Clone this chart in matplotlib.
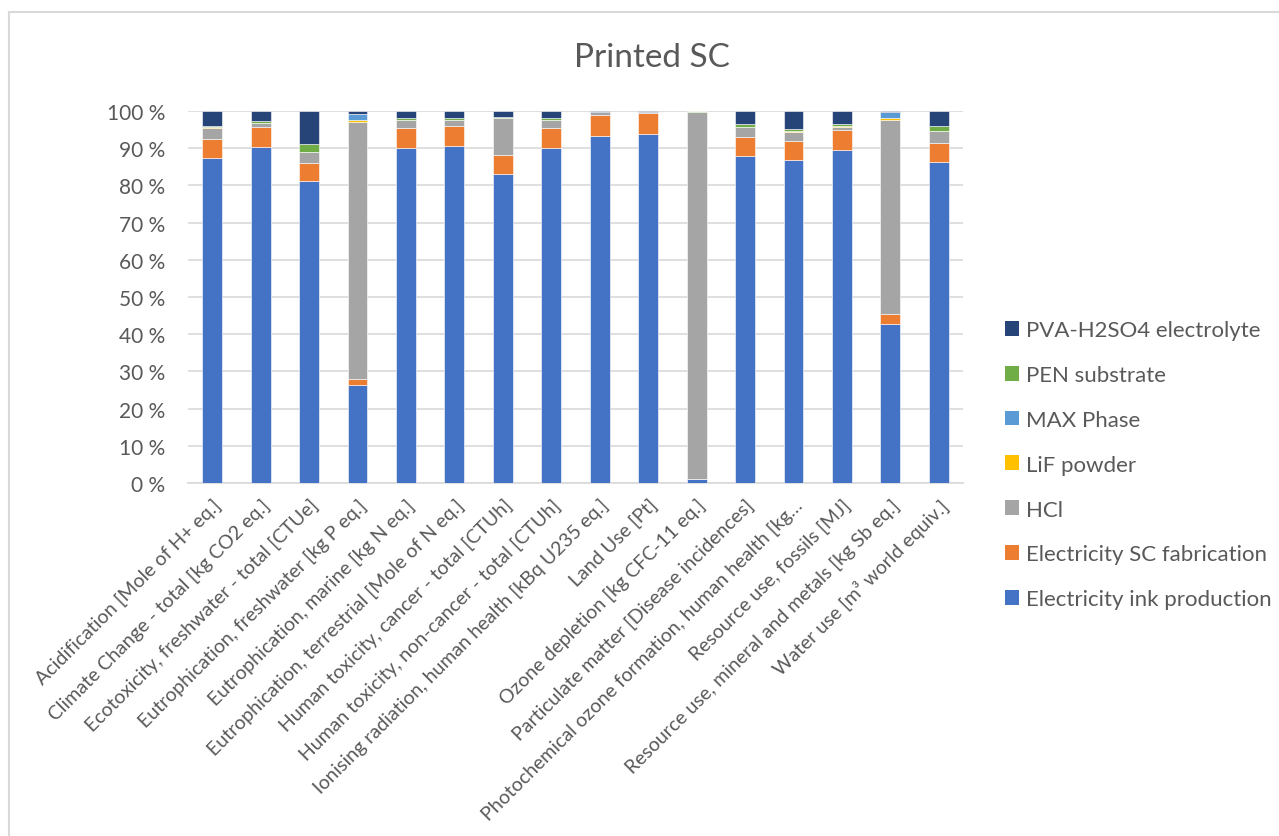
import matplotlib
matplotlib.use("Agg")
import matplotlib.pyplot as plt
import numpy as np
from matplotlib.patches import Patch
from matplotlib.lines import Line2D

plt.rcParams['font.family'] = ['Lato', 'DejaVu Sans']

categories = [
    "Acidification [Mole of H+ eq.]",
    "Climate Change - total [kg CO2 eq.]",
    "Ecotoxicity, freshwater - total [CTUe]",
    "Eutrophication, freshwater [kg P eq.]",
    "Eutrophication, marine [kg N eq.]",
    "Eutrophication, terrestrial [Mole of N eq.]",
    "Human toxicity, cancer - total [CTUh]",
    "Human toxicity, non-cancer - total [CTUh]",
    "Ionising radiation, human health [kBq U235 eq.]",
    "Land Use [Pt]",
    "Ozone depletion [kg CFC-11 eq.]",
    "Particulate matter [Disease incidences]",
    "Photochemical ozone formation, human health [kg\u2026",
    "Resource use, fossils [MJ]",
    "Resource use, mineral and metals [kg Sb eq.]",
    "Water use [m\u00b3 world equiv.]",
]

# shares in % per impact category
ink_production = [87.4, 90.2, 81.3, 26.4, 90.1, 90.6, 83.1, 90.0, 93.4, 93.8, 1.0, 87.8, 86.8, 89.6, 42.8, 86.2]
sc_fabrication = [5.2, 5.4, 4.8, 1.6, 5.4, 5.4, 5.2, 5.3, 5.6, 5.6, 0.1, 5.1, 5.2, 5.3, 2.5, 5.2]
hcl = [2.8, 1.1, 2.8, 69.0, 2.1, 1.5, 9.7, 2.3, 0.7, 0.3, 98.5, 2.8, 2.4, 0.9, 52.4, 3.2]
lif_powder = [0.2, 0.1, 0.1, 0.5, 0.1, 0.1, 0.1, 0.1, 0.0, 0.0, 0.2, 0.1, 0.1, 0.1, 0.4, 0.1]
max_phase = [0.1, 0.0, 0.0, 1.7, 0.0, 0.0, 0.0, 0.0, 0.0, 0.0, 0.0, 0.0, 0.0, 0.0, 1.6, 0.0]
pen_substrate = [0.4, 0.5, 2.1, 0.1, 0.4, 0.4, 0.3, 0.3, 0.0, 0.0, 0.1, 0.7, 0.7, 0.6, 0.0, 1.2]
pva_electrolyte = [3.9, 2.7, 8.9, 0.7, 1.9, 2.0, 1.6, 2.0, 0.3, 0.3, 0.1, 3.5, 4.8, 3.5, 0.3, 4.1]

series = [
    ("Electricity ink production", ink_production, "#4472C4"),
    ("Electricity SC fabrication", sc_fabrication, "#ED7D31"),
    ("HCl", hcl, "#A5A5A5"),
    ("LiF powder", lif_powder, "#FFC000"),
    ("MAX Phase", max_phase, "#5B9BD5"),
    ("PEN substrate", pen_substrate, "#70AD47"),
    ("PVA-H2SO4 electrolyte", pva_electrolyte, "#264478"),
]

TXT = "#595959"
W, H = 1279, 837
fig = plt.figure(figsize=(W / 100, H / 100), dpi=100)

# chart frame (only top and left edges are visible)
fig.add_artist(Line2D([9 / W, 9 / W], [0, 1 - 13 / H], color="#D9D9D9", lw=1.5))
fig.add_artist(Line2D([9 / W, 1], [1 - 13 / H, 1 - 13 / H], color="#D9D9D9", lw=1.5))

ax = fig.add_axes([188 / W, (H - 484) / H, (963 - 188) / W, (484 - 112) / H])

x = np.arange(len(categories))
bottom = np.zeros(len(categories))
for name, vals, col in series:
    vals = np.array(vals)
    ax.bar(x, vals, 0.41, bottom=bottom, color=col, edgecolor="white", linewidth=0.4, zorder=3)
    bottom += vals

ax.set_xlim(-0.5, len(categories) - 0.5)
ax.set_ylim(0, 100)
ax.set_yticks(np.arange(0, 101, 10))
ax.set_yticklabels([f"{v} %" for v in range(0, 101, 10)])
ax.yaxis.grid(True, color="#D9D9D9", lw=1.2, zorder=0)
ax.set_axisbelow(True)
for s in ["top", "right", "left"]:
    ax.spines[s].set_visible(False)
ax.spines["bottom"].set_color("#D9D9D9")
ax.spines["bottom"].set_linewidth(1.2)
ax.tick_params(axis="y", length=0, pad=16.5, labelsize=15, labelcolor=TXT)
ax.tick_params(axis="x", length=0, pad=9, labelsize=14, labelcolor=TXT)
ax.set_xticks(x)
ax.set_xticklabels(categories, rotation=45, ha="right", va="top", rotation_mode="anchor")

fig.text(652 / W, 1 - 58 / H, "Printed SC", ha="center", va="center", fontsize=24, color=TXT)

handles = [Patch(facecolor=col, edgecolor="none", label=name) for name, _, col in series][::-1]
fig.legend(handles=handles, loc="upper left", bbox_to_anchor=(985 / W, 1 - 301 / H),
           frameon=False, fontsize=16, labelcolor=TXT, handlelength=0.65, handleheight=0.65,
           handletextpad=0.3, labelspacing=1.12)

fig.savefig("out.png", dpi=100, facecolor="white")
